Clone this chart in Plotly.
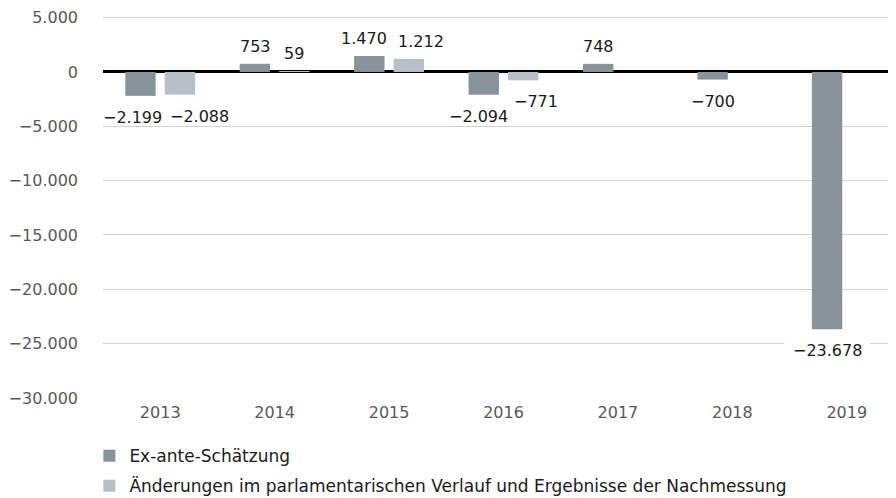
import plotly.graph_objects as go

# -------------------------------------------------------
# Data
# -------------------------------------------------------
years = ["2013", "2014", "2015", "2016", "2017", "2018", "2019"]
ex_ante = [-2199, 753, 1470, -2094, 748, -700, -23678]
aenderungen = [-2088, 59, 1212, -771, None, None, None]
y_ticks = [5000, 0, -5000, -10000, -15000, -20000, -25000, -30000]

DARK = "#88939a"
LIGHT = "#b7c0c6"
FONT = "DejaVu Sans"
HALF = 19.5      # px from category centre to each bar centre
CHAR_W = 9.8     # rough label char width at 16px


def de(v):
    # German thousands separator and a real minus sign
    return f"{v:,}".replace(",", ".").replace("-", "\u2212")


fig = go.Figure()
fig.add_trace(go.Bar(x=years, y=ex_ante, name="Ex-ante-Schätzung", legendgroup="a",
                     marker=dict(color=DARK, line=dict(width=0))))
fig.add_trace(go.Bar(x=years, y=aenderungen, legendgroup="b",
                     name="Änderungen im parlamentarischen Verlauf und Ergebnisse der Nachmessung",
                     marker=dict(color=LIGHT, line=dict(width=0))))

# value labels at the bar ends (x given as category index);
# neighbouring labels on the same side get pushed apart a bit
annotations = []
for i in range(len(years)):
    a, b = ex_ante[i], aenderungen[i]
    push = 0
    if a is not None and b is not None and (a >= 0) == (b >= 0):
        need = (len(de(a)) + len(de(b))) / 2 * CHAR_W + 8 - 2 * HALF
        push = max(0, need)
    for v, shift in ((a, -HALF - 0.3 * push), (b, HALF + 0.7 * push)):
        if v is None:
            continue
        # the long bar's label sits on a gridline -> white box behind it
        boxed = v < -20000
        pad = 8 if boxed else 1
        annotations.append(dict(
            x=i, y=v, xref="x", yref="y", text=de(v), showarrow=False,
            xshift=shift, yshift=6 if v >= 0 else -(11 - pad),
            yanchor="bottom" if v >= 0 else "top",
            font=dict(family=FONT, size=16, color="#1a1a1a"),
            bgcolor="white" if boxed else "rgba(0,0,0,0)", borderpad=pad,
        ))

# the page body keeps an 8px browser margin, so the figure is laid out 8px up/left
fig.update_layout(
    width=896, height=498,
    margin=dict(l=95, r=0, t=8, b=108),
    paper_bgcolor="white", plot_bgcolor="white",
    barmode="group", bargap=0.31, bargroupgap=0.23,
    font=dict(family=FONT, size=16, color="#595959"),
    annotations=annotations,
    showlegend=True,
    legend=dict(orientation="v", x=-0.017, xanchor="left", y=-0.105, yanchor="top",
                font=dict(family=FONT, size=17, color="#1a1a1a"),
                tracegroupgap=5, bgcolor="rgba(0,0,0,0)"),
)
fig.update_xaxes(type="category", range=[-0.5, 6.5], showgrid=False, showline=False, ticks="",
                 ticklabelstandoff=3, tickfont=dict(size=16, color="#595959"))
# small headroom above 5.000 so its gridline is not dropped at the plot edge
fig.update_yaxes(range=[-30000, 5150], tickvals=y_ticks, ticktext=[de(v) for v in y_ticks],
                 showgrid=True, gridcolor="#d4d4d4", gridwidth=1,
                 zeroline=True, zerolinecolor="#000000", zerolinewidth=3,
                 showline=False, ticks="", ticklabelstandoff=24, ticklabeloverflow="allow",
                 tickfont=dict(size=16, color="#595959"))

fig.write_html("out.html")
